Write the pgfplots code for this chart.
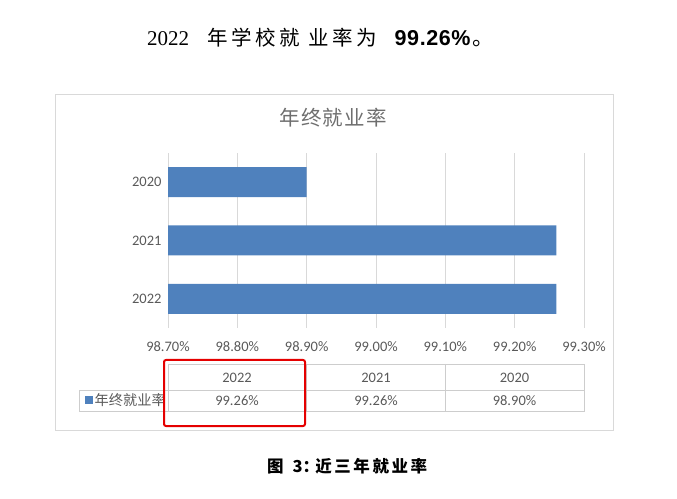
\documentclass[border=0pt]{standalone}
\usepackage{fontspec}
\usepackage{pgfplots}
\pgfplotsset{compat=1.18}
\setmainfont{Carlito}
\newfontfamily\cjk{Noto Sans CJK SC}
\newfontfamily\serifnum{Liberation Serif}
\newfontfamily\boldnum{Liberation Sans}
\definecolor{barblue}{RGB}{79,129,189}
\definecolor{txtgray}{RGB}{89,89,89}
\definecolor{titlegray}{RGB}{110,110,110}
\definecolor{gridgray}{RGB}{217,217,217}
\definecolor{tblgray}{RGB}{205,205,205}
\newcommand{\cs}{\hspace{3.6pt}}
\newcommand{\ks}{\hspace{2.6pt}}
\begin{document}
\begin{tikzpicture}
\useasboundingbox (0pt,0pt) rectangle (677pt,498pt);
\begin{axis}[
  at={(168pt,170pt)}, anchor=south west,
  scale only axis, width=416pt, height=175pt,
  xmin=98.7, xmax=99.3, ymin=-0.5, ymax=2.5,
  xtick={98.7,98.8,98.9,99.0,99.1,99.2,99.3},
  ytick={0,1,2}, yticklabels={2022,2021,2020},
  xticklabel={\pgfmathprintnumber[fixed,fixed zerofill,precision=2]{\tick}\%},
  /pgf/number format/assume math mode=true,
  axis line style={draw=none},
  major tick length=0pt,
  xmajorgrids, grid style={gridgray,line width=0.8pt},
  tick label style={text=txtgray,font=\fontsize{14.5}{16}\selectfont},
  xticklabel style={yshift=-10pt},
  yticklabel style={xshift=-3pt},
  clip=true,
]
\addplot[xbar, bar width=30pt, fill=barblue, draw=none] coordinates {
  (99.26,0) (99.26,1) (98.90,2)
};
\end{axis}
\begin{scope}[x=1pt,y=1pt]
% top sentence
\node[anchor=west,inner sep=0pt] at (147,460) {\fontsize{21}{24}\selectfont\serifnum 2022\hspace{18pt}\cjk\fontsize{20.5}{24}\selectfont 年\cs 学\cs 校\cs 就\hspace{8pt}业\cs 率\cs 为\hspace{18pt}\boldnum\bfseries\fontsize{21.5}{24}\selectfont 9\hspace{0.6pt}9\hspace{0.6pt}.\hspace{0.6pt}2\hspace{0.6pt}6\hspace{0.6pt}\%\hspace{2pt}\cjk\mdseries 。};
% chart frame
\draw[gridgray,line width=0.8pt] (55,68) rectangle (613,404);
\node[text=titlegray] at (333,380) {\fontsize{20.5}{22}\selectfont\cjk 年\hspace{1.2pt}终\hspace{1.2pt}就\hspace{1.2pt}业\hspace{1.2pt}率};
% data table
\begin{scope}[tblgray,line width=0.8pt]
\draw (168,134) rectangle (584,87);
\draw (168,108) -- (584,108);
\draw (306.7,134) -- (306.7,87);
\draw (445.3,134) -- (445.3,87);
\draw (79,108) rectangle (168,87);
\end{scope}
\begin{scope}[every node/.style={text=txtgray,font=\fontsize{14.5}{16}\selectfont}]
\node at (237,120) {2022};
\node at (376,120) {2021};
\node at (514.5,120) {2020};
\node at (237,97.5) {99.26\%};
\node at (376,97.5) {99.26\%};
\node at (514.5,97.5) {98.90\%};
\end{scope}
\fill[barblue] (84.5,94) rectangle (92.5,102);
\node[anchor=west,inner sep=0pt,text=txtgray] at (94.5,98) {\fontsize{14.2}{15}\selectfont\cjk 年终就业率};
% red highlight
\draw[red!90!black,line width=2pt,rounded corners=2pt] (164,138) rectangle (305,72);
% caption
\node[anchor=west,inner sep=0pt] at (267,32) {\fontsize{16.5}{18}\selectfont\cjk\bfseries 图\hspace{9pt}3：\hspace{-4pt}近\ks 三\ks 年\ks 就\ks 业\ks 率};
\end{scope}
\end{tikzpicture}
\end{document}
